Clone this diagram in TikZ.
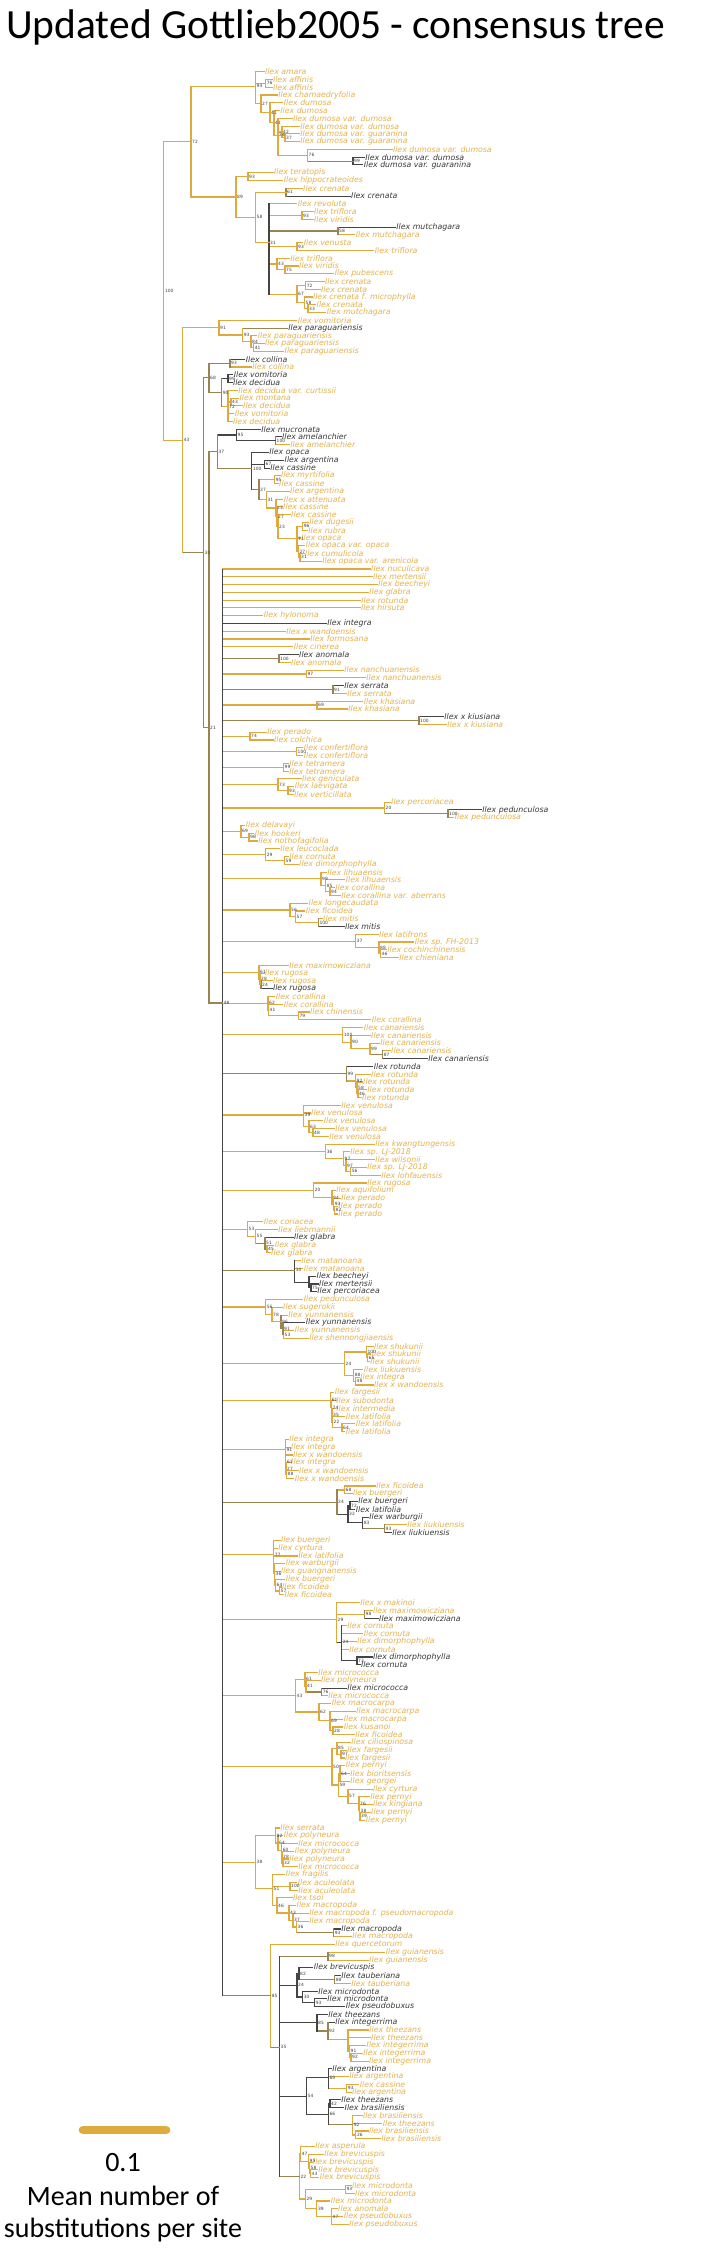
\documentclass[tikz,border=0pt]{standalone}
\usepackage{fontspec}
\newfontfamily\leafface{DejaVu Sans}
\newfontfamily\titleface{Carlito}
\definecolor{cBr}{HTML}{E0A93C}
\definecolor{cTx}{HTML}{E4B24E}
\definecolor{cBk}{HTML}{454545}
\definecolor{cTk}{HTML}{383838}
\definecolor{cMx}{HTML}{9A8452}
\definecolor{cBar}{HTML}{DDAB3E}
\newdimen\sumdim
\newcount\cntnum
\tikzset{
  bg/.style={draw=cBr,line width=1.15pt,line cap=rect},
  bk/.style={draw=cBk,line width=1.05pt,line cap=rect},
  bm/.style={draw=cMx,line width=1.1pt,line cap=rect},
  lbl/.style={anchor=west,inner sep=0.8pt,font=\leafface\itshape\fontsize{7.8}{8}\selectfont},
  tg/.style={text=cTx},
  tk/.style={text=cTk},
  bsl/.style={anchor=west,inner sep=0.4pt,xshift=0.6pt,text=black!75,font=\leafface\fontsize{4.4}{4.4}\selectfont},
  big/.style={font=\titleface\fontsize{28}{30}\selectfont,inner sep=0pt,anchor=base}
}
% leaf: index, text x, species, text style
\newcommand\Lf[4]{\coordinate (L#1) at ({#2-1.6},{71.7+7.771*(#1-1)});\node[lbl,#4] (T#1) at (L#1) {Ilex #3};}
% internal node: [y], name, x, vertical style, bootstrap, children
\newcommand\Nd[6][]{%
  \global\sumdim=0pt \global\cntnum=0 \gdef\cfirst{}%
  \foreach \chn/\chc in {#6}{%
    \ifx\cfirst\empty\xdef\cfirst{\chn}\fi
    \xdef\clast{\chn}%
    \pgfextracty{\dimen0}{\pgfpointanchor{\chn}{center}}%
    \global\advance\sumdim by \dimen0
    \global\advance\cntnum by 1
  }%
  \global\divide\sumdim by \cntnum
  \coordinate (xr) at (#3,0);
  \ifx\relax#1\relax
    \coordinate (#2) at ([yshift=\the\sumdim]xr);
  \else
    \coordinate (#2) at (#3,#1);
  \fi
  \foreach \chn/\chc in {#6}{\draw[\chc] (#2 |- \chn) -- (\chn);}
  \draw[#4] (#2 |- \cfirst) -- (#2 |- \clast);
  \ifx\relax#5\relax\else\node[bsl] (B#2) at (#2) {#5};\fi
}
\begin{document}
\begin{tikzpicture}[x=1pt,y=-1pt]
\useasboundingbox (0,0) rectangle (720,2249);
\fill[white] (0,0) rectangle (720,2249);
\node[font=\titleface\fontsize{41.5}{44}\selectfont,anchor=base west,inner sep=0] (title) at (6,38) {Updated Gottlieb2005 - consensus tree};
% ---------------- leaves
\Lf{1}{265.6}{amara}{tg}
\Lf{2}{273.6}{affinis}{tg}
\Lf{3}{273.6}{affinis}{tg}
\Lf{4}{279}{chamaedryfolia}{tg}
\Lf{5}{284.5}{dumosa}{tg}
\Lf{6}{281}{dumosa}{tg}
\Lf{7}{293.6}{dumosa var. dumosa}{tg}
\Lf{8}{301}{dumosa var. dumosa}{tg}
\Lf{9}{301}{dumosa var. guaranina}{tg}
\Lf{10}{301}{dumosa var. guaranina}{tg}
\Lf{11}{393.6}{dumosa var. dumosa}{tg}
\Lf{12}{366}{dumosa var. dumosa}{tk}
\Lf{13}{364.5}{dumosa var. guaranina}{tk}
\Lf{14}{274.7}{teratopis}{tg}
\Lf{15}{284.5}{hippocrateoides}{tg}
\Lf{16}{303.8}{crenata}{tg}
\Lf{17}{351.8}{crenata}{tk}
\Lf{18}{298.4}{revoluta}{tg}
\Lf{19}{314.7}{triflora}{tg}
\Lf{20}{314.7}{viridis}{tg}
\Lf{21}{397}{mutchagara}{tk}
\Lf{22}{356.5}{mutchagara}{tg}
\Lf{23}{304.5}{venusta}{tg}
\Lf{24}{375.5}{triflora}{tg}
\Lf{25}{291}{triflora}{tg}
\Lf{26}{299.8}{viridis}{tg}
\Lf{27}{335.5}{pubescens}{tg}
\Lf{28}{325.6}{crenata}{tg}
\Lf{29}{321.6}{crenata}{tg}
\Lf{30}{313.6}{crenata f. microphylla}{tg}
\Lf{31}{317.3}{crenata}{tg}
\Lf{32}{327.5}{mutchagara}{tg}
\Lf{33}{298.4}{vomitoria}{tg}
\Lf{34}{289}{paraguariensis}{tk}
\Lf{35}{258.4}{paraguariensis}{tg}
\Lf{36}{265.6}{paraguariensis}{tg}
\Lf{37}{285.3}{paraguariensis}{tg}
\Lf{38}{246.4}{collina}{tk}
\Lf{39}{253}{collina}{tg}
\Lf{40}{234.4}{vomitoria}{tk}
\Lf{41}{233.6}{decidua}{tk}
\Lf{42}{239}{decidua var. curtissii}{tg}
\Lf{43}{240.2}{montana}{tg}
\Lf{44}{243.8}{decidua}{tg}
\Lf{45}{235.5}{vomitoria}{tg}
\Lf{46}{233.6}{decidua}{tg}
\Lf{47}{262}{mucronata}{tk}
\Lf{48}{282.7}{amelanchier}{tk}
\Lf{49}{291}{amelanchier}{tg}
\Lf{50}{270}{opaca}{tk}
\Lf{51}{285.3}{argentina}{tk}
\Lf{52}{271}{cassine}{tk}
\Lf{53}{281.6}{myrtifolia}{tg}
\Lf{54}{279.8}{cassine}{tg}
\Lf{55}{290.7}{argentina}{tg}
\Lf{56}{284.5}{x attenuata}{tg}
\Lf{57}{283.8}{cassine}{tg}
\Lf{58}{291.8}{cassine}{tg}
\Lf{59}{310}{dugesii}{tg}
\Lf{60}{309}{rubra}{tg}
\Lf{61}{302}{opaca}{tg}
\Lf{62}{306.4}{opaca var. opaca}{tg}
\Lf{63}{305.6}{cumulicola}{tg}
\Lf{64}{323}{opaca var. arenicola}{tg}
\Lf{65}{371.8}{nuculicava}{tg}
\Lf{66}{373.6}{mertensii}{tg}
\Lf{67}{379}{beecheyi}{tg}
\Lf{68}{370}{glabra}{tg}
\Lf{69}{362}{rotunda}{tg}
\Lf{70}{361.6}{hirsuta}{tg}
\Lf{71}{264.5}{hylonoma}{tg}
\Lf{72}{328}{integra}{tk}
\Lf{73}{287}{x wandoensis}{tg}
\Lf{74}{311}{formosana}{tg}
\Lf{75}{294.4}{cinerea}{tg}
\Lf{76}{299.8}{anomala}{tk}
\Lf{77}{291.8}{anomala}{tg}
\Lf{78}{345}{nanchuanensis}{tg}
\Lf{79}{367}{nanchuanensis}{tg}
\Lf{80}{345}{serrata}{tk}
\Lf{81}{348}{serrata}{tg}
\Lf{82}{364.5}{khasiana}{tg}
\Lf{83}{349}{khasiana}{tg}
\Lf{84}{445}{x kiusiana}{tk}
\Lf{85}{448}{x kiusiana}{tg}
\Lf{86}{268}{perado}{tg}
\Lf{87}{274.7}{colchica}{tg}
\Lf{88}{304.5}{confertiflora}{tg}
\Lf{89}{304.5}{confertiflora}{tg}
\Lf{90}{290}{tetramera}{tg}
\Lf{91}{290}{tetramera}{tg}
\Lf{92}{302.7}{geniculata}{tg}
\Lf{93}{295.5}{laevigata}{tg}
\Lf{94}{294.7}{verticillata}{tg}
\Lf{95}{391.8}{percoriacea}{tg}
\Lf{96}{483}{pedunculosa}{tk}
\Lf{97}{455.5}{pedunculosa}{tg}
\Lf{98}{246.4}{delavayi}{tg}
\Lf{99}{255.5}{hookeri}{tg}
\Lf{100}{259}{nothofagifolia}{tg}
\Lf{101}{281}{leucoclada}{tg}
\Lf{102}{290}{cornuta}{tg}
\Lf{103}{299.8}{dimorphophylla}{tg}
\Lf{104}{328}{lihuaensis}{tg}
\Lf{105}{346.4}{lihuaensis}{tg}
\Lf{106}{336}{corallina}{tg}
\Lf{107}{342}{corallina var. aberrans}{tg}
\Lf{108}{309.3}{longecaudata}{tg}
\Lf{109}{306.4}{ficoidea}{tg}
\Lf{110}{323.8}{mitis}{tg}
\Lf{111}{345.6}{mitis}{tk}
\Lf{112}{379.8}{latifrons}{tg}
\Lf{113}{415.5}{sp. FH-2013}{tg}
\Lf{114}{388}{cochinchinensis}{tg}
\Lf{115}{400}{chieniana}{tg}
\Lf{116}{290}{maximowicziana}{tg}
\Lf{117}{265.6}{rugosa}{tg}
\Lf{118}{273.6}{rugosa}{tg}
\Lf{119}{273.6}{rugosa}{tk}
\Lf{120}{276.5}{corallina}{tg}
\Lf{121}{284.5}{corallina}{tg}
\Lf{122}{310.7}{chinensis}{tg}
\Lf{123}{372.5}{corallina}{tg}
\Lf{124}{364.5}{canariensis}{tg}
\Lf{125}{371.8}{canariensis}{tg}
\Lf{126}{381}{canariensis}{tg}
\Lf{127}{391.8}{canariensis}{tg}
\Lf{128}{429}{canariensis}{tk}
\Lf{129}{374.4}{rotunda}{tk}
\Lf{130}{371.8}{rotunda}{tg}
\Lf{131}{363.8}{rotunda}{tg}
\Lf{132}{368}{rotunda}{tg}
\Lf{133}{362.7}{rotunda}{tg}
\Lf{134}{342}{venulosa}{tg}
\Lf{135}{311.8}{venulosa}{tg}
\Lf{136}{324.5}{venulosa}{tg}
\Lf{137}{336}{venulosa}{tg}
\Lf{138}{330}{venulosa}{tg}
\Lf{139}{376}{kwangtungensis}{tg}
\Lf{140}{351}{sp. LJ-2018}{tg}
\Lf{141}{376}{wilsonii}{tg}
\Lf{142}{368}{sp. LJ-2018}{tg}
\Lf{143}{382}{lohfauensis}{tg}
\Lf{144}{368}{rugosa}{tg}
\Lf{145}{337}{aquifolium}{tg}
\Lf{146}{342}{perado}{tg}
\Lf{147}{339}{perado}{tg}
\Lf{148}{339}{perado}{tg}
\Lf{149}{264.5}{coriacea}{tg}
\Lf{150}{279}{liebmannii}{tg}
\Lf{151}{294.7}{glabra}{tk}
\Lf{152}{275.5}{glabra}{tg}
\Lf{153}{271.8}{glabra}{tg}
\Lf{154}{302}{matanoana}{tg}
\Lf{155}{304.5}{matanoana}{tg}
\Lf{156}{317.3}{beecheyi}{tk}
\Lf{157}{319.8}{mertensii}{tk}
\Lf{158}{318}{percoriacea}{tk}
\Lf{159}{304.5}{pedunculosa}{tg}
\Lf{160}{283.8}{sugerokii}{tg}
\Lf{161}{289}{yunnanensis}{tg}
\Lf{162}{306.4}{yunnanensis}{tk}
\Lf{163}{295.5}{yunnanensis}{tg}
\Lf{164}{310}{shennongjiaensis}{tg}
\Lf{165}{374.7}{shukunii}{tg}
\Lf{166}{372.5}{shukunii}{tg}
\Lf{167}{371}{shukunii}{tg}
\Lf{168}{364.5}{liukiuensis}{tg}
\Lf{169}{361}{integra}{tg}
\Lf{170}{374.7}{x wandoensis}{tg}
\Lf{171}{335.5}{fargesii}{tg}
\Lf{172}{337}{subodonta}{tg}
\Lf{173}{337}{intermedia}{tg}
\Lf{174}{346.4}{latifolia}{tg}
\Lf{175}{356.5}{latifolia}{tg}
\Lf{176}{346.4}{latifolia}{tg}
\Lf{177}{290}{integra}{tg}
\Lf{178}{291.8}{integra}{tg}
\Lf{179}{293.6}{x wandoensis}{tg}
\Lf{180}{291.8}{integra}{tg}
\Lf{181}{299.8}{x wandoensis}{tg}
\Lf{182}{295.5}{x wandoensis}{tg}
\Lf{183}{377}{ficoidea}{tg}
\Lf{184}{353.6}{buergeri}{tg}
\Lf{185}{359}{buergeri}{tk}
\Lf{186}{356.5}{latifolia}{tk}
\Lf{187}{370}{warburgii}{tk}
\Lf{188}{408}{liukiuensis}{tg}
\Lf{189}{393}{liukiuensis}{tk}
\Lf{190}{281.6}{buergeri}{tg}
\Lf{191}{279}{cyrtura}{tg}
\Lf{192}{299}{latifolia}{tg}
\Lf{193}{286.4}{warburgii}{tg}
\Lf{194}{281.6}{guangnanensis}{tg}
\Lf{195}{286.4}{buergeri}{tg}
\Lf{196}{282.7}{ficoidea}{tg}
\Lf{197}{285.3}{ficoidea}{tg}
\Lf{198}{361}{x makinoi}{tg}
\Lf{199}{373.6}{maximowicziana}{tg}
\Lf{200}{379.8}{maximowicziana}{tk}
\Lf{201}{348}{cornuta}{tg}
\Lf{202}{364.5}{cornuta}{tg}
\Lf{203}{358}{dimorphophylla}{tg}
\Lf{204}{350}{cornuta}{tg}
\Lf{205}{373.6}{dimorphophylla}{tk}
\Lf{206}{361.6}{cornuta}{tk}
\Lf{207}{319}{micrococca}{tg}
\Lf{208}{321.6}{polyneura}{tg}
\Lf{209}{348}{micrococca}{tk}
\Lf{210}{329}{micrococca}{tg}
\Lf{211}{332.5}{macrocarpa}{tg}
\Lf{212}{357}{macrocarpa}{tg}
\Lf{213}{344.5}{macrocarpa}{tg}
\Lf{214}{344.5}{kusanoi}{tg}
\Lf{215}{356}{ficoidea}{tg}
\Lf{216}{352}{ciliospinosa}{tg}
\Lf{217}{348}{fargesii}{tg}
\Lf{218}{345.6}{fargesii}{tg}
\Lf{219}{346.4}{pernyi}{tg}
\Lf{220}{351}{bioritsensis}{tg}
\Lf{221}{351}{georgei}{tg}
\Lf{222}{373.6}{cyrtura}{tg}
\Lf{223}{371}{pernyi}{tg}
\Lf{224}{373.6}{kingiana}{tg}
\Lf{225}{371.8}{pernyi}{tg}
\Lf{226}{366.4}{pernyi}{tg}
\Lf{227}{281}{serrata}{tg}
\Lf{228}{284.5}{polyneura}{tg}
\Lf{229}{299}{micrococca}{tg}
\Lf{230}{295.5}{polyneura}{tg}
\Lf{231}{290}{polyneura}{tg}
\Lf{232}{299}{micrococca}{tg}
\Lf{233}{286.4}{fragilis}{tg}
\Lf{234}{298.4}{aculeolata}{tg}
\Lf{235}{299}{aculeolata}{tg}
\Lf{236}{293.6}{tsoi}{tg}
\Lf{237}{297.3}{macropoda}{tg}
\Lf{238}{310}{macropoda f. pseudomacropoda}{tg}
\Lf{239}{310}{macropoda}{tg}
\Lf{240}{342}{macropoda}{tk}
\Lf{241}{353}{macropoda}{tg}
\Lf{242}{336}{quercetorum}{tg}
\Lf{243}{386.4}{guianensis}{tg}
\Lf{244}{370}{guianensis}{tg}
\Lf{245}{314.4}{brevicuspis}{tk}
\Lf{246}{342}{tauberiana}{tk}
\Lf{247}{352}{tauberiana}{tg}
\Lf{248}{319}{microdonta}{tk}
\Lf{249}{328}{microdonta}{tk}
\Lf{250}{346.4}{pseudobuxus}{tk}
\Lf{251}{329}{theezans}{tk}
\Lf{252}{336}{integerrima}{tk}
\Lf{253}{370}{theezans}{tg}
\Lf{254}{371.8}{theezans}{tg}
\Lf{255}{367.3}{integerrima}{tg}
\Lf{256}{364}{integerrima}{tg}
\Lf{257}{369.6}{integerrima}{tg}
\Lf{258}{333}{argentina}{tk}
\Lf{259}{350}{argentina}{tg}
\Lf{260}{360.4}{cassine}{tg}
\Lf{261}{352.6}{argentina}{tg}
\Lf{262}{342}{theezans}{tk}
\Lf{263}{345.3}{brasiliensis}{tk}
\Lf{264}{363.6}{brasiliensis}{tg}
\Lf{265}{383.4}{theezans}{tg}
\Lf{266}{369.6}{brasiliensis}{tg}
\Lf{267}{382}{brasiliensis}{tg}
\Lf{268}{316}{asperula}{tg}
\Lf{269}{325}{brevicuspis}{tg}
\Lf{270}{313.6}{brevicuspis}{tg}
\Lf{271}{319}{brevicuspis}{tg}
\Lf{272}{320.5}{brevicuspis}{tg}
\Lf{273}{352.6}{microdonta}{tg}
\Lf{274}{355.8}{microdonta}{tg}
\Lf{275}{331.5}{microdonta}{tg}
\Lf{276}{338.8}{anomala}{tg}
\Lf{277}{344.4}{pseudobuxus}{tg}
\Lf{278}{349.9}{pseudobuxus}{tg}
% ---------------- top clade
\Nd{N76a}{265.6}{bg}{76}{L2/bg,L3/bg}
\Nd{N37a}{285}{bg}{37}{L9/bg,L10/bg}
\Nd{N42a}{282}{bg}{42}{L8/bg,N37a/bg}
\Nd{N99a}{353}{bk}{99}{L12/bk,L13/bk}
\Nd{N76b}{307.5}{bg}{76}{L11/bg,N99a/bm}
\Nd{N24a}{278}{bg}{24}{L7/bg,N42a/bg,N76b/bg}
\Nd{N41b}{274}{bg}{41}{L6/bg,N24a/bg}
\Nd{N41a}{270}{bg}{41}{L5/bg,N41b/bg}
\Nd{N27a}{261}{bg}{27}{L4/bg,N41a/bg}
\Nd{N94a}{255.5}{bg}{94}{L1/bg,N76a/bg,N27a/bg}
\Nd{N93a}{248}{bg}{93}{L14/bg,L15/bg}
\Nd{N61a}{286}{bm}{61}{L16/bg,L17/bk}
\Nd{N93b}{302}{bg}{93}{L19/bg,L20/bg}
\Nd{N58b}{338}{bm}{58}{L21/bk,L22/bg}
\Nd{N93c}{297}{bg}{93}{L23/bg,L24/bg}
\Nd{N75a}{285}{bg}{75}{L26/bg,L27/bg}
\Nd{N43a}{277}{bg}{43}{L25/bg,N75a/bg}
\Nd{N72b}{305.6}{bg}{72}{L28/bg,L29/bg}
\Nd{N33a}{308}{bg}{33}{L31/bg,L32/bg}
\Nd{N58c}{304.5}{bg}{58}{L30/bg,N33a/bg}
\Nd{N67a}{297}{bg}{67}{N72b/bg,N58c/bg}
\Nd{N31a}{269}{bk}{31}{L18/bg,N93b/bg,N58b/bm,N93c/bg,N43a/bg,N67a/bg}
\Nd{N58a}{255.5}{bg}{58}{N61a/bg,N31a/bg}
\Nd{N89a}{236}{bg}{89}{N93a/bg,N58a/bg}
\Nd{N72a}{191}{bg}{72}{N94a/bg,N89a/bg}
% ---------------- paraguariensis
\Nd{N41c}{253.6}{bg}{41}{L36/bg,L37/bg}
\Nd{N84a}{251}{bg}{84}{L35/bg,N41c/bg}
\Nd{N93d}{242.7}{bg}{93}{L34/bm,N84a/bg}
\Nd{N91a}{219}{bg}{91}{L33/bg,N93d/bg}
% ---------------- collina
\Nd{N93e}{230}{bm}{93}{L38/bk,L39/bg}
\Nd{N99b}{228}{bk}{99}{L40/bk,L41/bk}
\Nd{N43c}{231}{bg}{43}{L43/bg,L44/bg}
\Nd{N72c}{228}{bg}{72}{L42/bg,N43c/bg,L45/bg,L46/bg}
\Nd{N90a}{221.6}{bm}{90}{N99b/bk,N72c/bg}
\Nd{N68a}{209}{bm}{68}{N93e/bm,N90a/bm}
% ---------------- opaca / cassine
\Nd{N100b}{275.5}{bm}{100}{L48/bk,L49/bg}
\Nd{N95a}{236.5}{bk}{95}{L47/bk,N100b/bk}
\Nd{N67b}{264.5}{bk}{67}{L51/bk,L52/bk}
\Nd{N95b}{274.7}{bg}{95}{L53/bg,L54/bg}
\Nd{N96a}{302.7}{bg}{96}{L59/bg,L60/bg}
\Nd{N31c}{300}{bg}{31}{L63/bg,L64/bg}
\Nd{N27d}{298.4}{bg}{27}{L62/bg,N31c/bg}
\Nd{N71a}{297}{bg}{71}{N96a/bg,L61/bg,N27d/bg}
\Nd{N23b}{278}{bg}{23}{L58/bg,N71a/bg}
\Nd{N27c}{277}{bg}{27}{L57/bg,N23b/bg}
\Nd{N23a}{276}{bg}{23}{L56/bg,N27c/bg}
\Nd{N31b}{266.4}{bg}{31}{L55/bg,N23a/bg}
\Nd{N37b}{259}{bm}{37}{N95b/bg,N31b/bg}
\Nd{N100c}{251.8}{bk}{100}{L50/bk,N67b/bk,N37b/bm}
\Nd{N37c}{217.3}{bm}{37}{N95a/bk,N100c/bm}
% ---------------- big polytomy members
\Nd{N100d}{279}{bm}{100}{L76/bk,L77/bg}
\Nd{N97a}{306.4}{bg}{97}{L78/bg,L79/bg}
\Nd{N91b}{333}{bm}{91}{L80/bk,L81/bg}
\Nd{N69a}{317}{bg}{69}{L82/bg,L83/bg}
\Nd{N100e}{419}{bm}{100}{L84/bk,L85/bg}
\Nd{N74a}{250}{bg}{74}{L86/bg,L87/bg}
\Nd{N100f}{296.5}{bg}{100}{L88/bg,L89/bg}
\Nd{N99c}{283.5}{bg}{99}{L90/bg,L91/bg}
\Nd{N93f}{288}{bg}{93}{L93/bg,L94/bg}
\Nd{N73a}{278}{bg}{73}{L92/bg,N93f/bg}
\Nd{N100g}{448}{bm}{100}{L96/bk,L97/bg}
\Nd{N20a}{384.5}{bg}{20}{L95/bg,N100g/bm}
\Nd{N96b}{249}{bg}{96}{L99/bg,L100/bg}
\Nd{N69b}{241}{bg}{69}{L98/bg,N96b/bg}
\Nd{N59a}{284.5}{bg}{59}{L102/bg,L103/bg}
\Nd{N29a}{265.6}{bg}{29}{L101/bg,N59a/bg}
\Nd{N94b}{330}{bg}{94}{L106/bg,L107/bg}
\Nd{N85a}{325.6}{bg}{85}{L105/bg,N94b/bg}
\Nd{N99d}{321}{bg}{99}{L104/bg,N85a/bg}
\Nd{N100h}{318.4}{bm}{100}{L110/bg,L111/bk}
\Nd{N57a}{295.5}{bg}{57}{L109/bg,N100h/bg}
\Nd{N56a}{290}{bg}{56}{L108/bg,N57a/bg}
\Nd{N46a}{380.5}{bg}{46}{L114/bg,L115/bg}
\Nd{N88a}{379}{bg}{88}{L113/bg,N46a/bg}
\Nd{N37d}{355.5}{bg}{37}{L112/bg,N88a/bg}
\Nd{N24c}{261}{bm}{24}{L118/bg,L119/bk}
\Nd{N28a}{260}{bg}{28}{L117/bg,N24c/bm}
\Nd{N61b}{259}{bg}{61}{L116/bg,N28a/bg}
\Nd{N79a}{298.4}{bg}{79}{L122/bg,L123/bg}
\Nd{N41d}{268.5}{bg}{41}{L121/bg,N79a/bg}
\Nd{N62a}{268}{bg}{62}{L120/bg,N41d/bg}
\Nd{N87a}{382.7}{bm}{87}{L127/bg,L128/bk}
\Nd{N99e}{370}{bg}{99}{L126/bg,N87a/bm}
\Nd{N90b}{351}{bg}{90}{L125/bg,N99e/bg}
\Nd{N100i}{342.7}{bg}{100}{L124/bg,N90b/bg}
\Nd{N46b}{358}{bg}{46}{L132/bg,L133/bg}
\Nd{N58d}{357}{bg}{58}{L131/bg,N46b/bg}
\Nd{N92a}{355.5}{bg}{92}{L130/bg,N58d/bg}
\Nd{N99f}{346.4}{bm}{99}{L129/bk,N92a/bg}
\Nd{N48b}{313}{bg}{48}{L137/bg,L138/bg}
\Nd{N63a}{309}{bg}{63}{L136/bg,N48b/bg}
\Nd{N39a}{303.5}{bg}{39}{L134/bg,L135/bg,N63a/bg}
\Nd{N56b}{350.7}{bg}{56}{L142/bg,L143/bg}
\Nd{N97c}{346}{bg}{97}{L141/bg,N56b/bg}
\Nd{N97b}{343.5}{bg}{97}{L140/bg,N97c/bg}
\Nd{N36a}{325.6}{bg}{36}{L139/bg,N97b/bg}
\Nd{N82a}{334.5}{bg}{82}{L147/bg,L148/bg}
\Nd{N93g}{333.6}{bg}{93}{L146/bg,N82a/bg}
\Nd{N94c}{332}{bg}{94}{L145/bg,N93g/bg}
\Nd{N20b}{313.6}{bg}{20}{L144/bg,N94c/bg}
\Nd{N45a}{267}{bg}{45}{L152/bg,L153/bg}
\Nd{N51a}{265}{bm}{51}{L151/bk,N45a/bg}
\Nd{N55a}{255.5}{bg}{55}{L150/bg,N51a/bm}
\Nd{N53a}{247.5}{bg}{53}{L149/bg,N55a/bg}
\Nd{N75b}{311}{bk}{75}{L157/bk,L158/bk}
\Nd{N77a}{309}{bk}{}{L156/bk,N75b/bk}
\Nd{N30b}{294.7}{bk}{30}{L154/bg,L155/bg,N77a/bk}
\Nd{N53b}{283.5}{bg}{53}{L163/bg,L164/bg}
\Nd{N91e}{283}{bm}{91}{L162/bk,N53b/bg}
\Nd{N96c}{281}{bm}{96}{L161/bg,N91e/bm}
\Nd{N78a}{272}{bg}{78}{L160/bg,N96c/bg}
\Nd{N56c}{265.6}{bg}{56}{L159/bg,N78a/bg}
\Nd{N66a}{367.5}{bg}{66}{L166/bg,L167/bg}
\Nd{N100j}{366.4}{bg}{100}{L165/bg,N66a/bg}
\Nd{N48c}{355.5}{bg}{48}{L169/bg,L170/bg}
\Nd{N88b}{353.6}{bg}{88}{L168/bg,N48c/bg}
\Nd{N24d}{344.5}{bg}{24}{N100j/bg,N88b/bg}
\Nd{N64a}{342}{bg}{64}{L175/bg,L176/bg}
\Nd{N22b}{332.5}{bg}{22}{L174/bg,N64a/bg}
\Nd{N35b}{332}{bg}{35}{L173/bg,N22b/bg}
\Nd{N74b}{331.5}{bg}{74}{L172/bg,N35b/bg}
\Nd{N61c}{330.7}{bg}{61}{L171/bg,N74b/bg}
\Nd{N88c}{286.5}{bg}{88}{L181/bg,L182/bg}
\Nd{N27e}{286}{bg}{27}{L180/bg,N88c/bg}
\Nd{N61d}{285.8}{bg}{61}{L179/bg,N27e/bg}
\Nd{N91c}{285.3}{bg}{91}{L177/bg,L178/bg,N61d/bg}
\Nd{N68c}{344.5}{bg}{68}{L183/bg,L184/bg}
\Nd{N72d}{350}{bk}{72}{L185/bk,L186/bk}
\Nd{N93h}{384.5}{bm}{93}{L188/bg,L189/bk}
\Nd{N83a}{362.7}{bk}{83}{L187/bk,N93h/bm}
\Nd{N32a}{348}{bk}{32}{N72d/bk,N83a/bk}
\Nd{N24e}{337}{bm}{24}{N68c/bg,N32a/bk}
\Nd{N57b}{279.5}{bg}{57}{L196/bg,L197/bg}
\Nd{N64b}{275.5}{bg}{64}{L195/bg,N57b/bg}
\Nd{N36b}{274.5}{bg}{36}{L193/bg,L194/bg,N64b/bg}
\Nd{N77b}{273.6}{bg}{77}{L190/bg,L191/bg,L192/bg,N36b/bg}
\Nd{N98a}{364.5}{bm}{98}{L199/bg,L200/bk}
\Nd{N73b}{357}{bk}{73}{L205/bk,L206/bk}
\Nd{N24f}{341.6}{bk}{24}{L201/bg,L202/bg,L203/bg,L204/bg,N73b/bk}
\Nd{N29b}{336.5}{bg}{29}{L198/bg,N98a/bg,N24f/bk}
\Nd{N76c}{321.6}{bm}{76}{L209/bk,L210/bg}
\Nd{N41e}{306}{bg}{41}{L208/bg,N76c/bm}
\Nd{N61e}{305}{bg}{61}{L207/bg,N41e/bg}
\Nd{N28b}{333}{bg}{28}{L214/bg,L215/bg}
\Nd{N69c}{330}{bg}{69}{L212/bg,L213/bg,N28b/bg}
\Nd{N62b}{319}{bg}{62}{L211/bg,N69c/bg}
\Nd{N43d}{295.5}{bg}{43}{N61e/bg,N62b/bg}
\Nd{N97d}{341}{bg}{97}{L217/bg,L218/bg}
\Nd{N85b}{337}{bg}{85}{L216/bg,N97d/bg}
\Nd{N64c}{340}{bg}{64}{L219/bg,L220/bg,L221/bg}
\Nd{N39c}{360}{bg}{39}{L225/bg,L226/bg}
\Nd{N38c}{359.5}{bg}{38}{L224/bg,N39c/bg}
\Nd{N76d}{359}{bg}{76}{L223/bg,N38c/bg}
\Nd{N57c}{348}{bg}{57}{L222/bg,N76d/bg}
\Nd{N59b}{338.4}{bg}{59}{N64c/bg,N57c/bg}
\Nd{N50a}{332}{bg}{50}{N85b/bg,N59b/bg}
\Nd{N32c}{283}{bg}{32}{L231/bg,L232/bg}
\Nd{N28c}{282}{bg}{28}{L230/bg,N32c/bg}
\Nd{N60a}{281.6}{bg}{60}{L229/bg,N28c/bg}
\Nd{N64d}{278}{bg}{64}{L228/bg,N60a/bg}
\Nd{N82b}{275.5}{bg}{82}{L227/bg,N64d/bg}
\Nd{N100k}{290}{bg}{100}{L234/bg,L235/bg}
\Nd{N93i}{333.6}{bm}{93}{L240/bk,L241/bg}
\Nd{N36c}{296.5}{bg}{36}{L239/bg,N93i/bm}
\Nd{N37e}{293}{bg}{37}{L238/bg,N36c/bg}
\Nd{N43f}{289}{bg}{43}{L237/bg,N37e/bg}
\Nd{N46d}{277}{bg}{46}{L236/bg,N43f/bg}
\Nd{N51b}{272.5}{bg}{51}{L233/bg,N100k/bg,N46d/bg}
\Nd{N38b}{255.5}{bg}{38}{N82b/bg,N51b/bg}
% ---------------- bottom clade
\Nd{N98b}{328}{bm}{98}{L243/bg,L244/bg}
\Nd{N88d}{334.7}{bm}{88}{L246/bk,L247/bg}
\Nd{N82c}{299}{bk}{82}{L245/bk,N88d/bm}
\Nd{N93j}{314.7}{bk}{93}{L249/bk,L250/bk}
\Nd{N30d}{302.7}{bk}{30}{L248/bk,N93j/bk}
\Nd{N24g}{297}{bk}{24}{N82c/bk,N30d/bk}
\Nd{N92c}{351}{bg}{92}{L256/bg,L257/bg}
\Nd{N91d}{349.5}{bg}{91}{L255/bg,N92c/bg}
\Nd{N57d}{348}{bg}{}{L253/bg,L254/bg,N91d/bg}
\Nd{N92b}{328}{bm}{92}{L252/bk,N57d/bg}
\Nd{N85c}{317}{bk}{85}{L251/bk,N92b/bm}
\Nd{N93l}{346.6}{bg}{93}{L260/bg,L261/bg}
\Nd{N69d}{328.3}{bk}{69}{L258/bk,L259/bg,N93l/bg}
\Nd{N42c}{330}{bk}{42}{L262/bk,L263/bk}
\Nd{N26a}{355.8}{bg}{26}{L266/bg,L267/bg}
\Nd{N92d}{352.6}{bg}{92}{L264/bg,L265/bg,N26a/bg}
\Nd{N66b}{328.3}{bk}{66}{N42c/bk,N92d/bm}
\Nd{N54a}{306.7}{bk}{54}{N69d/bk,N66b/bk}
\Nd{N43g}{310.5}{bg}{43}{L271/bg,L272/bg}
\Nd{N58e}{309.5}{bg}{58}{L270/bg,N43g/bg}
\Nd{N95d}{308.5}{bg}{95}{L269/bg,N58e/bg}
\Nd{N47a}{300.7}{bg}{47}{L268/bg,N95d/bg}
\Nd{N93k}{345.3}{bg}{93}{L273/bg,L274/bg}
\Nd{N47b}{331.5}{bg}{47}{L276/bg,L277/bg,L278/bg}
\Nd{N39b}{316.8}{bg}{39}{L275/bg,N47b/bg}
\Nd{N29c}{305.3}{bg}{29}{N93k/bg,N39b/bg}
\Nd{N22c}{299.4}{bg}{22}{N47a/bg,N29c/bg}
\Nd{N35a}{279.5}{bk}{35}{N98b/bm,N24g/bk,N85c/bk,N54a/bk,N22c/bm}
\Nd{N85d}{270.7}{bg}{85}{L242/bg,N35a/bm}
% ---------------- backbone
\Nd[1003]{N48a}{222.7}{bk}{48}{L65/bg,L66/bg,L67/bg,L68/bg,L69/bg,L70/bg,L71/bg,L72/bk,L73/bg,L74/bg,L75/bg,N100d/bm,N97a/bg,N91b/bm,N69a/bg,N100e/bm,N74a/bg,N100f/bg,N99c/bg,N73a/bg,N20a/bg,N69b/bg,N29a/bg,N99d/bg,N56a/bg,N37d/bg,N61b/bg,N62a/bg,N100i/bg,N99f/bm,N39a/bg,N36a/bg,N20b/bg,N53a/bg,N30b/bm,N56c/bg,N24d/bg,N61c/bg,N91c/bg,N24e/bm,N77b/bg,N29b/bg,N43d/bg,N50a/bg,N38b/bg,N85d/bm}
\Nd{N21a}{209}{bm}{21}{N37c/bm,N48a/bm}
\Nd{N30a}{203.5}{bm}{30}{N68a/bm,N21a/bm}
\Nd{N43b}{182.7}{bg}{43}{N91a/bg,N30a/bm}
\Nd{N100a}{163.8}{bg}{100}{N72a/bg,N43b/bg}
% ---------------- scale
\coordinate (sbA) at (83,2130);
\coordinate (sbB) at (166,2130);
\draw[cBar,line width=8.7pt,line cap=round] (sbA) -- (sbB);
\node[big] (sv) at (123,2171.5) {0.1};
\node[big] (sl1) at (123,2205) {Mean number of};
\node[big] (sl2) at (123,2237) {substitutions per site};
\end{tikzpicture}
\end{document}
